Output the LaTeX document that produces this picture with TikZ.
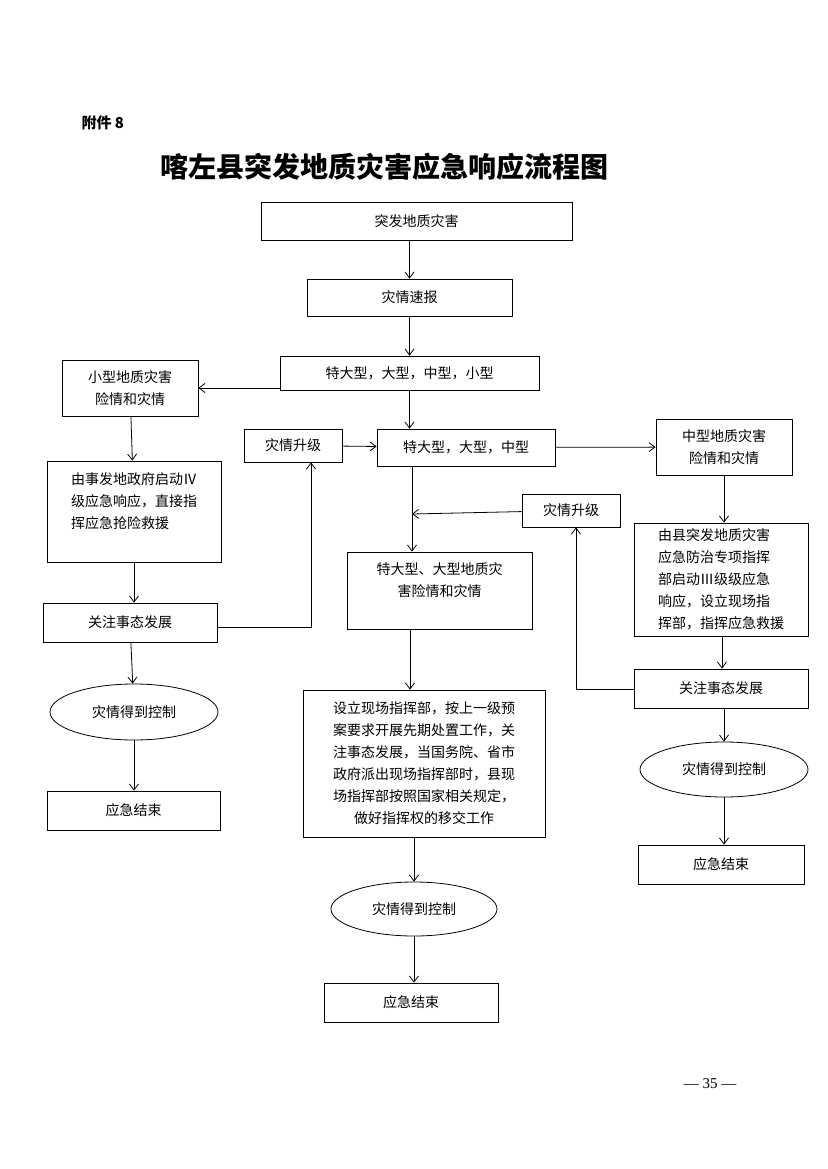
\documentclass[tikz,border=0pt]{standalone}
\usepackage{fontspec}
\setmainfont{Liberation Serif}
\newfontfamily\cjk{Noto Sans CJK SC}
\usetikzlibrary{shapes.geometric}
\tikzset{
  box/.style={draw=black, thick, rectangle, inner sep=0pt, font=\cjk\fontsize{14}{22}\selectfont},
  oval/.style={draw=black, thick, ellipse, inner sep=0pt, font=\cjk\fontsize{14}{22}\selectfont},
  arr/.style={->, thick, >={Straight Barb[length=6pt,width=9pt]}}
}
\usetikzlibrary{arrows.meta}
\begin{document}
\begin{tikzpicture}[x=1pt,y=-1pt]
 \useasboundingbox (0,0) rectangle (827,1169);
 \node[font=\cjk\bfseries\fontsize{15}{15}\selectfont, anchor=west] (att) at (78,123) {附件 8};
 \node[font=\cjk\bfseries\fontsize{28}{28}\selectfont] (title) at (384,167) {喀左县突发地质灾害应急响应流程图};

 \node[box, minimum width=311, minimum height=38] (start) at (416.5,221) {突发地质灾害};
 \node[box, minimum width=205, minimum height=37] (report) at (409.5,297.5) {灾情速报};
 \node[box, minimum width=259, minimum height=34] (all4) at (409.5,373) {特大型，大型，中型，小型};
 \node[box, minimum width=136, minimum height=56, align=center] (small) at (130,388) {小型地质灾害\\险情和灾情};
 \node[box, minimum width=98, minimum height=33] (up1) at (293,445.5) {灾情升级};
 \node[box, minimum width=178, minimum height=37] (all3) at (466,447.5) {特大型，大型，中型};
 \node[box, minimum width=136, minimum height=56, align=center] (mid) at (724,447) {中型地质灾害\\险情和灾情};
 \node[box, minimum width=174, minimum height=101, align=left] (lresp) at (134,511.5) {由事发地政府启动Ⅳ\\级应急响应，直接指\\挥应急抢险救援\\\mbox{}};
 \node[box, minimum width=98, minimum height=33] (up2) at (571,510.5) {灾情升级};
 \node[box, minimum width=185, minimum height=77, align=center] (big) at (439.5,590.5) {特大型、大型地质灾\\害险情和灾情\\\mbox{}};
 \node[box, minimum width=174, minimum height=113, align=left] (rresp) at (721,579.5) {由县突发地质灾害\\应急防治专项指挥\\部启动Ⅲ级级应急\\响应，设立现场指\\挥部，指挥应急救援};
 \node[box, minimum width=174, minimum height=39] (lfocus) at (130,622.5) {关注事态发展};
 \node[box, minimum width=174, minimum height=39] (rfocus) at (721,688.5) {关注事态发展};
 \node[oval, minimum width=168, minimum height=56] (lctl) at (134,712) {灾情得到控制};
 \node[box, minimum width=242, minimum height=147, align=center] (site) at (424,763.5) {设立现场指挥部，按上一级预\\案要求开展先期处置工作，关\\注事态发展，当国务院、省市\\政府派出现场指挥部时，县现\\场指挥部按照国家相关规定，\\做好指挥权的移交工作};
 \node[oval, minimum width=168, minimum height=55] (rctl) at (724,769.5) {灾情得到控制};
 \node[box, minimum width=173, minimum height=39] (lend) at (133.5,810.5) {应急结束};
 \node[box, minimum width=166, minimum height=39] (rend) at (721,864.5) {应急结束};
 \node[oval, minimum width=166, minimum height=54] (cctl) at (414,909) {灾情得到控制};
 \node[box, minimum width=174, minimum height=39] (cend) at (411,1002.5) {应急结束};
 \node[font=\fontsize{15}{15}\selectfont] (page) at (710,1084) {— 35 —};

 \coordinate (lbend) at (311,627);
 \coordinate (rbend) at (576,689);
 \coordinate (join) at (412,514);

 \draw[arr] (start.south -| report) -- (report);
 \draw[arr] (report) -- (all4);
 \draw[arr] (all4.west |- small) -- (small);
 \draw[arr] (all4) -- (all4.south |- all3.north);
 \draw[arr] (up1) -- (all3);
 \draw[arr] (all3) -- (mid);
 \draw[arr] (small) -- (lresp);
 \draw[arr] (lresp) -- (lfocus.north -| lresp);
 \draw[arr] (lfocus) -- (lctl);
 \draw[arr] (lctl) -- (lend.north -| lctl);
 \draw[arr] (lfocus.east |- lbend) -- (lbend) -- (up1.south -| lbend);
 \draw[arr] (all3.south -| join) -- (big.north -| join);
 \draw[arr] (up2) -- (join);
 \draw[arr] (big.south -| 410,0) -- (site.north -| 410,0);
 \draw[arr] (site.south -| cctl) -- (cctl);
 \draw[arr] (cctl) -- (cend.north -| cctl);
 \draw[arr] (mid) -- (rresp.north -| mid);
 \draw[arr] (rresp.south -| 722,0) -- (rfocus.north -| 722,0);
 \draw[arr] (rfocus.south -| rctl) -- (rctl);
 \draw[arr] (rctl) -- (rend.north -| rctl);
 \draw[arr] (rfocus.west |- rbend) -- (rbend) -- (up2.south -| rbend);
\end{tikzpicture}
\end{document}
